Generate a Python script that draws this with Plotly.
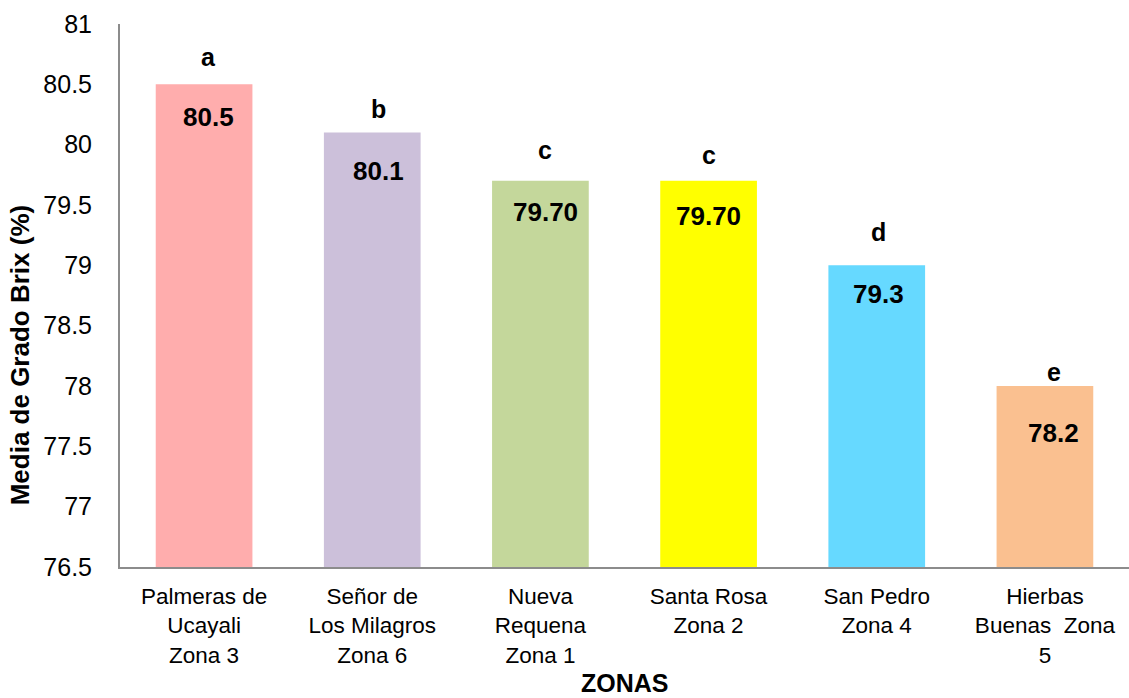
import plotly.graph_objects as go

categories = ["Palmeras de<br>Ucayali<br>Zona 3", "Señor de<br>Los Milagros<br>Zona 6",
              "Nueva<br>Requena<br>Zona 1", "Santa Rosa<br>Zona 2", "San Pedro<br>Zona 4",
              "Hierbas<br>Buenas  Zona<br>5"]
values = [80.5, 80.1, 79.7, 79.7, 79.0, 78.0]
value_labels = ["80.5", "80.1", "79.70", "79.70", "79.3", "78.2"]
letters = ["a", "b", "c", "c", "d", "e"]
colors = ["#FFADAD", "#CCC0DA", "#C4D79B", "#FFFF00", "#66D9FF", "#FAC090"]

# label placement tweaks (pixels)
letter_dy = [27, 24, 31, 26, 33, 14]
value_dy = [-33, -38, -31, -35, -29, -47]
dx = [4, 6, 5, 0, 2, 9]

fig = go.Figure()
fig.add_trace(go.Bar(x=categories, y=values, marker=dict(color=colors, line=dict(width=0)),
                     width=0.575, hoverinfo="skip"))

for i, c in enumerate(categories):
    fig.add_annotation(x=c, y=values[i], text="<b>%s</b>" % letters[i], showarrow=False,
                       yshift=letter_dy[i], xshift=dx[i], font=dict(size=25, color="black"))
    fig.add_annotation(x=c, y=values[i], text="<b>%s</b>" % value_labels[i], showarrow=False,
                       yshift=value_dy[i], xshift=dx[i], font=dict(size=26, color="black"))

# axis titles (y title placed lower than centre, as in the original)
fig.add_annotation(xref="paper", yref="paper", x=-0.099, y=0.39, xanchor="center", yanchor="middle",
                   text="<b>Media de Grado Brix (%)</b>",
                   textangle=-90, showarrow=False, font=dict(size=26, color="black"))
fig.add_annotation(xref="paper", yref="paper", x=0.5, y=-0.214, xanchor="center", yanchor="middle",
                   text="<b>ZONAS</b>", showarrow=False, font=dict(size=25, color="black"))

fig.update_layout(
    width=1129, height=698,
    margin=dict(l=120, r=0, t=24, b=131),
    plot_bgcolor="white", paper_bgcolor="white",
    font=dict(family="Liberation Sans, Arial, sans-serif", color="black"),
    showlegend=False,
    bargap=0.425,
    xaxis=dict(showline=True, linecolor="#8C8C8C", linewidth=2, ticks="", showgrid=False,
               tickfont=dict(size=22.5), ticklabelstandoff=8),
    yaxis=dict(range=[76.5, 81], dtick=0.5, showline=True, linecolor="#8C8C8C", linewidth=2,
               ticks="", showgrid=False, tickfont=dict(size=25), ticklabelstandoff=21),
)

fig.write_html("out.html")
